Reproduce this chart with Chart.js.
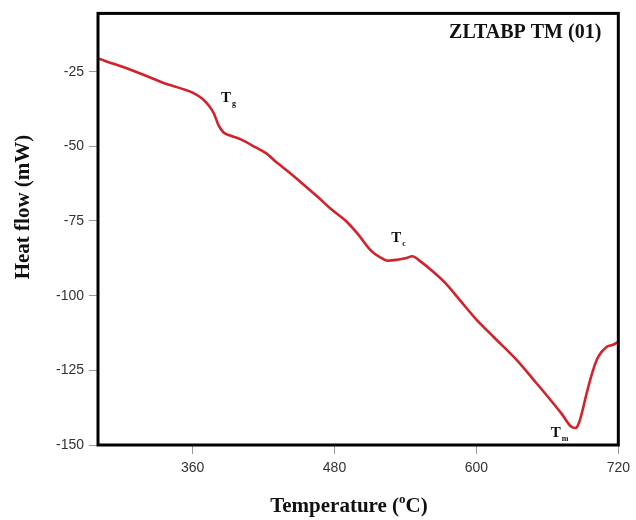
<!DOCTYPE html>
<html>
<head>
<meta charset="utf-8">
<title>ZLTABP TM (01) DSC curve</title>
<script src="https://cdn.jsdelivr.net/npm/chart.js@4.4.1/dist/chart.umd.min.js"></script>
<style>
  html, body { margin: 0; padding: 0; background: #fff; }
  #wrap { width: 636px; height: 520px; position: relative; }
</style>
</head>
<body>
<div id="wrap"><canvas id="dscChart"></canvas></div>
<script>
// Temperature (°C) and heat flow (mW)
const temps = [280, 300, 320, 335, 350, 360, 368, 374, 378, 382, 386, 391, 398, 405, 413, 422, 432, 441, 450, 466,
  477, 491, 500, 511, 518, 525, 533, 540, 546, 551, 562, 573, 586, 600, 615, 634, 648, 662, 672, 680,
  684, 687, 690, 693, 699, 703, 710, 715, 720];
const heatFlow = [-20.6, -23.3, -26.3, -28.7, -30.6, -32, -34, -36.5, -39, -43, -45.3, -46.3, -47.2, -48.5, -50.3, -52.3, -55.7, -58.5, -61.5, -67,
  -71, -75.5, -79.5, -85, -87, -88.3, -88, -87.5, -86.8, -88, -91.5, -95.5, -101.5, -108, -114, -121.5, -128, -134.6, -139.5, -143.8,
  -144.3, -142.3, -138, -133, -124.5, -120.5, -117.2, -116.5, -115.5];

const xTicks = [360, 480, 600, 720];
const yTicks = [-150, -125, -100, -75, -50, -25];

// transition labels (T_g, T_c, T_m), placed in data coordinates
const markNames = ["T", "T", "T"];
const markSubs = ["g", "c", "m"];
const markTemps = [389, 533, 668];
const markFlows = [-34, -81, -146.3];

const chartTitle = "ZLTABP TM (01)";

const serif = '"Liberation Serif", "Times New Roman", serif';
const sans = '"Liberation Sans", Arial, sans-serif';

const decorations = {
  id: "decorations",
  afterDraw(chart) {
    const { ctx, chartArea: a, scales } = chart;
    ctx.save();

    // frame
    ctx.strokeStyle = "#000";
    ctx.lineWidth = 3;
    ctx.strokeRect(a.left, a.top, a.right - a.left, a.bottom - a.top);

    // title in the corner
    ctx.fillStyle = "#111";
    ctx.font = "bold 20px " + serif;
    ctx.textAlign = "right";
    ctx.textBaseline = "alphabetic";
    ctx.fillText(chartTitle, a.right - 17, 38);

    // transition labels
    markNames.forEach((name, i) => {
      const x = scales.x.getPixelForValue(markTemps[i]);
      const y = scales.y.getPixelForValue(markFlows[i]);
      ctx.textAlign = "left";
      ctx.font = "bold 15px " + serif;
      ctx.fillText(name, x - 6, y + 3);
      const w = ctx.measureText(name).width;
      ctx.font = "bold 8px " + serif;
      ctx.fillText(markSubs[i], x - 5 + w, y + 7);
    });

    // x axis title with superscript o
    const p1 = "Temperature (";
    const p3 = "C)";
    ctx.font = "bold 21px " + serif;
    const w1 = ctx.measureText(p1).width;
    const w3 = ctx.measureText(p3).width;
    ctx.font = "bold 13px " + serif;
    const w2 = ctx.measureText("o").width;
    const total = w1 + w2 + w3;
    const x0 = 349 - total / 2;
    const base = 512;
    ctx.textAlign = "left";
    ctx.font = "bold 21px " + serif;
    ctx.fillText(p1, x0, base);
    ctx.font = "bold 13px " + serif;
    ctx.fillText("o", x0 + w1, base - 9);
    ctx.font = "bold 21px " + serif;
    ctx.fillText(p3, x0 + w1 + w2, base);

    // y axis title
    ctx.translate(29, 207);
    ctx.rotate(-Math.PI / 2);
    ctx.textAlign = "center";
    ctx.fillText("Heat flow (mW)", 0, 0);

    ctx.restore();
  },
};

new Chart(document.getElementById("dscChart"), {
  type: "line",
  data: {
    datasets: [
      {
        label: "Heat flow",
        data: temps.map((t, i) => ({ x: t, y: heatFlow[i] })),
        borderColor: "#d4222a",
        borderWidth: 2.6,
        pointRadius: 0,
        fill: false,
        cubicInterpolationMode: "monotone",
      },
    ],
  },
  options: {
    responsive: true,
    maintainAspectRatio: false,
    animation: false,
    layout: { padding: { top: 12, right: 14, left: 0, bottom: 0 } },
    plugins: {
      legend: { display: false },
      tooltip: { enabled: false },
    },
    scales: {
      x: {
        type: "linear",
        min: 280,
        max: 720,
        afterBuildTicks: (scale) => {
          scale.ticks = xTicks.map((v) => ({ value: v }));
        },
        afterFit: (scale) => {
          scale.height = 75;
        },
        border: { display: false },
        grid: { drawOnChartArea: false, drawTicks: true, tickLength: 9, color: "#999", lineWidth: 1 },
        ticks: { color: "#333", font: { family: sans, size: 14 }, padding: 6, maxRotation: 0 },
      },
      y: {
        type: "linear",
        min: -150,
        max: -5.5,
        afterBuildTicks: (scale) => {
          scale.ticks = yTicks.map((v) => ({ value: v }));
        },
        afterFit: (scale) => {
          scale.width = 98;
        },
        border: { display: false },
        grid: { drawOnChartArea: false, drawTicks: true, tickLength: 9, color: "#999", lineWidth: 1 },
        ticks: { color: "#333", font: { family: sans, size: 14 }, padding: 5 },
      },
    },
  },
  plugins: [decorations],
});
</script>
</body>
</html>
